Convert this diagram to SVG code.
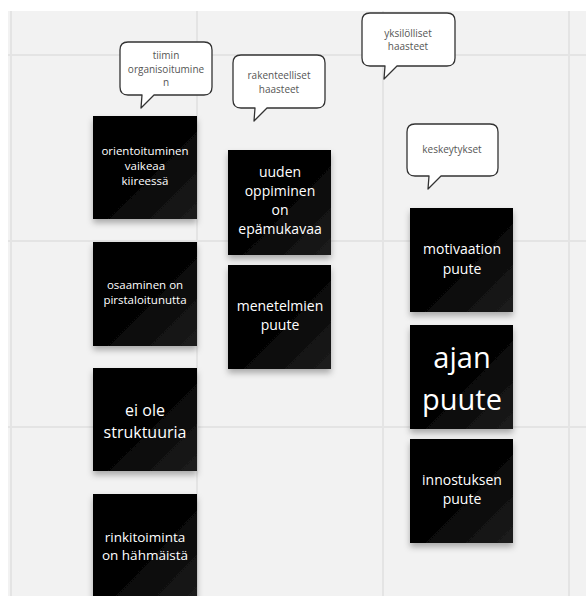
<svg xmlns="http://www.w3.org/2000/svg" width="586" height="596" viewBox="0 0 586 596">
  <defs>
    <style>
      .grid { stroke: #e4e4e4; stroke-width: 2; fill: none; }
      .note-bg { fill: url(#noteFill); filter: url(#noteShadow); }
      .note-text { fill: #ffffff; font-family: "Open Sans", "Noto Sans", sans-serif; text-anchor: middle; }
      .bubble { fill: #ffffff; stroke: #333333; stroke-width: 1.3; stroke-linejoin: round; }
      .bubble-text { fill: #555555; font-family: "Open Sans", "Noto Sans", sans-serif; font-size: 10px; text-anchor: middle; }
    </style>
    <linearGradient id="noteFill" x1="0" y1="0" x2="1" y2="1">
      <stop offset="0" stop-color="#000000"/>
      <stop offset="0.55" stop-color="#050505"/>
      <stop offset="1" stop-color="#1e1e1e"/>
    </linearGradient>
    <filter id="noteShadow" x="-20%" y="-20%" width="140%" height="150%">
      <feDropShadow dx="0" dy="4" stdDeviation="3" flood-color="#000000" flood-opacity="0.3"/>
    </filter>
  </defs>

  <!-- canvas -->
  <rect x="0" y="0" width="586" height="596" fill="#ffffff"/>
  <rect x="8" y="11" width="578" height="585" fill="#f2f2f2"/>
  <g id="grid">
    <line class="grid" x1="11" y1="11" x2="11" y2="596"/>
    <line class="grid" x1="197" y1="11" x2="197" y2="596"/>
    <line class="grid" x1="383" y1="11" x2="383" y2="596"/>
    <line class="grid" x1="569" y1="11" x2="569" y2="596"/>
    <line class="grid" x1="8" y1="55" x2="586" y2="55"/>
    <line class="grid" x1="8" y1="241" x2="586" y2="241"/>
    <line class="grid" x1="8" y1="427" x2="586" y2="427"/>
  </g>

  <!-- speech bubbles -->
  <g id="bubble-tiimin">
    <path class="bubble" d="M128,42 H204 Q212,42 212,50 V87 Q212,95 204,95 H154 L141,108 L142,95 H128 Q120,95 120,87 V50 Q120,42 128,42 Z"/>
    <text class="bubble-text" x="166" y="59">tiimin</text>
    <text class="bubble-text" x="166" y="72.5">organisoitumine</text>
    <text class="bubble-text" x="166" y="86">n</text>
  </g>
  <g id="bubble-rakenteelliset">
    <path class="bubble" d="M241,55 H317 Q325,55 325,63 V100 Q325,108 317,108 H267 L254,121 L255,108 H241 Q233,108 233,100 V63 Q233,55 241,55 Z"/>
    <text class="bubble-text" x="279" y="79">rakenteelliset</text>
    <text class="bubble-text" x="279" y="93">haasteet</text>
  </g>
  <g id="bubble-yksilolliset">
    <path class="bubble" d="M370,13 H447 Q455,13 455,21 V58 Q455,66 447,66 H397 L384,79 L385,66 H370 Q362,66 362,58 V21 Q362,13 370,13 Z"/>
    <text class="bubble-text" x="408" y="37">yksilölliset</text>
    <text class="bubble-text" x="408" y="50">haasteet</text>
  </g>
  <g id="bubble-keskeytykset">
    <path class="bubble" d="M415,124 H490 Q498,124 498,132 V168 Q498,176 490,176 H441 L428,189 L429,176 H415 Q407,176 407,168 V132 Q407,124 415,124 Z"/>
    <text class="bubble-text" x="452" y="153">keskeytykset</text>
  </g>

  <!-- sticky notes, column 1 -->
  <g id="note-orientoituminen">
    <rect class="note-bg" x="93" y="116" width="104" height="103"/>
    <text class="note-text" font-size="11.5" x="145" y="155">orientoituminen</text>
    <text class="note-text" font-size="11.5" x="145" y="170">vaikeaa</text>
    <text class="note-text" font-size="11.5" x="145" y="185">kiireessä</text>
  </g>
  <g id="note-osaaminen">
    <rect class="note-bg" x="93" y="242" width="104" height="104"/>
    <text class="note-text" font-size="11.5" x="145" y="289">osaaminen on</text>
    <text class="note-text" font-size="11.5" x="145" y="304">pirstaloitunutta</text>
  </g>
  <g id="note-struktuuria">
    <rect class="note-bg" x="93" y="368" width="104" height="103"/>
    <text class="note-text" font-size="16" x="145" y="416">ei ole</text>
    <text class="note-text" font-size="16" x="145" y="438">struktuuria</text>
  </g>
  <g id="note-rinkitoiminta">
    <rect class="note-bg" x="93" y="494" width="104" height="110"/>
    <text class="note-text" font-size="13.5" x="145" y="542">rinkitoiminta</text>
    <text class="note-text" font-size="13.5" x="145" y="560">on hähmäistä</text>
  </g>

  <!-- sticky notes, column 2 -->
  <g id="note-uuden-oppiminen">
    <rect class="note-bg" x="228" y="150" width="103" height="105"/>
    <text class="note-text" font-size="14" x="280" y="177">uuden</text>
    <text class="note-text" font-size="14" x="280" y="196">oppiminen</text>
    <text class="note-text" font-size="14" x="280" y="215">on</text>
    <text class="note-text" font-size="14" x="280" y="234">epämukavaa</text>
  </g>
  <g id="note-menetelmien">
    <rect class="note-bg" x="228" y="265" width="103" height="104"/>
    <text class="note-text" font-size="14" x="280" y="311">menetelmien</text>
    <text class="note-text" font-size="14" x="280" y="330">puute</text>
  </g>

  <!-- sticky notes, column 3 -->
  <g id="note-motivaation">
    <rect class="note-bg" x="410" y="208" width="103" height="104"/>
    <text class="note-text" font-size="14" x="462" y="254">motivaation</text>
    <text class="note-text" font-size="14" x="462" y="274">puute</text>
  </g>
  <g id="note-ajan">
    <rect class="note-bg" x="410" y="325" width="103" height="104"/>
    <text class="note-text" font-size="29" x="462" y="368">ajan</text>
    <text class="note-text" font-size="29" x="462" y="410">puute</text>
  </g>
  <g id="note-innostuksen">
    <rect class="note-bg" x="410" y="439" width="103" height="104"/>
    <text class="note-text" font-size="14" x="462" y="485">innostuksen</text>
    <text class="note-text" font-size="14" x="462" y="504">puute</text>
  </g>

  <g id="connectors"/>
</svg>
